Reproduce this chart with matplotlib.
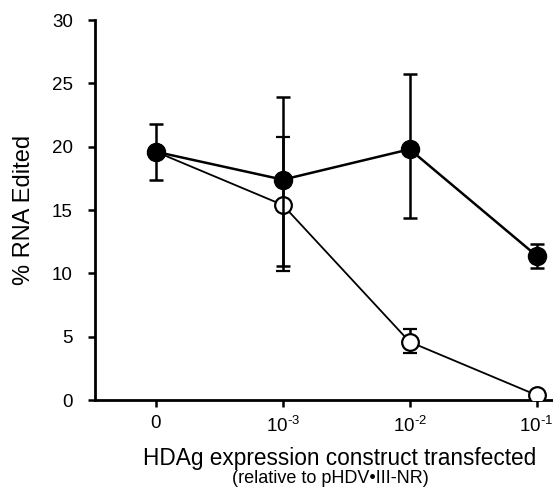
import matplotlib
matplotlib.use('Agg')
import matplotlib.pyplot as plt
import numpy as np

plt.rcParams['font.family'] = ['Liberation Sans', 'DejaVu Sans']
plt.rcParams['mathtext.fontset'] = 'custom'
plt.rcParams['mathtext.rm'] = 'Liberation Sans'
plt.rcParams['mathtext.it'] = 'Liberation Sans'

# data
doses = ['0', r'$10^{\text{-3}}$', r'$10^{\text{-2}}$', r'$10^{\text{-1}}$']
filled = [19.6, 17.4, 19.8, 11.4]
filled_lo = [17.4, 10.6, 14.4, 10.4]
filled_hi = [21.8, 23.9, 25.7, 12.3]
opened = [19.6, 15.4, 4.6, 0.4]
open_lo = [19.6, 10.2, 3.7, 0.4]
open_hi = [19.6, 20.8, 5.6, 0.4]

x = np.arange(len(doses))
f = np.array(filled)
o = np.array(opened)
ferr = [f - np.array(filled_lo), np.array(filled_hi) - f]
oerr = [o - np.array(open_lo), np.array(open_hi) - o]

fig = plt.figure(figsize=(5.53, 4.88), dpi=100)
ax = fig.add_axes([0.172, 0.180, 0.828, 0.779])

ax.errorbar(x, o, yerr=oerr, color='black', lw=1.3, elinewidth=1.8, capsize=5,
            capthick=1.8, marker='o', ms=12, mfc='white', mec='black', mew=1.6, zorder=3)
ax.errorbar(x, f, yerr=ferr, color='black', lw=1.8, elinewidth=1.8, capsize=5,
            capthick=1.8, marker='o', ms=13, mfc='black', mec='black', zorder=4)

ax.set_xlim(-0.48, 3.13)
ax.set_ylim(0, 30)
ax.set_yticks([0, 5, 10, 15, 20, 25, 30])
ax.set_xticks(x)
ax.set_xticklabels(doses)
ax.spines['top'].set_visible(False)
ax.spines['right'].set_visible(False)
ax.spines['left'].set_linewidth(2)
ax.spines['bottom'].set_linewidth(2)
ax.spines['left'].set_bounds(0, 30)
ax.tick_params(width=1.8, length=5, labelsize=13.5, direction='out')
ax.tick_params(axis='x', pad=6)
ax.tick_params(axis='y', pad=11)
ax.set_ylabel('% RNA Edited', fontsize=17, labelpad=12)
fig.text(0.615, 0.061, 'HDAg expression construct transfected', fontsize=16.3, ha='center', va='center')
fig.text(0.598, 0.019, '(relative to pHDV\u2022III-NR)', fontsize=13, ha='center', va='center')

fig.savefig('out.png', dpi=100)
